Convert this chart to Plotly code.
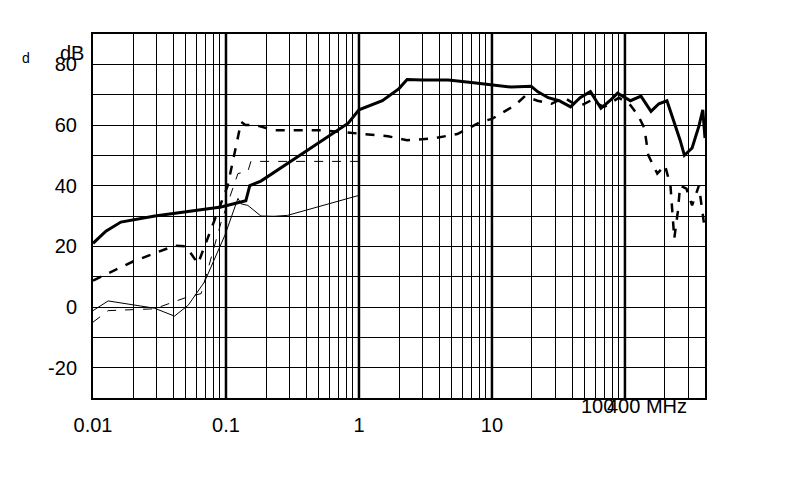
import plotly.graph_objects as go

# thick solid
f1 = [0.01, 0.0125, 0.0162, 0.0292, 0.0917, 0.141, 0.151, 0.183, 0.41, 0.83, 1.0, 1.5, 2.0, 2.3, 3.0, 4.7, 7.0, 10, 14, 19.7, 22, 26.5, 32, 39, 46, 55, 66, 77, 88, 110, 132, 157, 180, 207, 235, 260, 280, 320, 360, 385, 400]
v1 = [21, 25, 28, 30, 33, 35, 40, 41.5, 51.7, 60.6, 65, 68, 72, 75, 74.8, 74.8, 74, 73.2, 72.5, 72.8, 71, 69, 68, 66, 69, 71, 65.5, 68, 70.5, 68, 69.5, 64.5, 67, 68, 61, 55, 50, 52.4, 59.6, 65, 55.7]
# thick dashed
f2 = [0.01, 0.02, 0.041, 0.05, 0.0616, 0.103, 0.13, 0.14, 0.165, 0.23, 0.52, 1.65, 2.3, 3.5, 5.5, 8.2, 10, 14.9, 17.7, 22, 28, 35, 45, 55, 70, 90, 110, 125, 140, 150, 175, 200, 220, 235, 250, 260, 290, 320, 360, 400]
v2 = [8.7, 15, 20.2, 20, 14.3, 40, 61, 60, 60, 58.3, 58.3, 56.3, 55, 55.5, 57, 61, 62, 66.5, 69.5, 68, 67, 69, 66, 68, 66, 69, 66.5, 63.3, 59, 50, 44, 46.7, 40, 22.6, 31.5, 40, 39, 33.5, 40, 25]
# thin solid
f3 = [0.01, 0.013, 0.029, 0.041, 0.052, 0.069, 0.098, 0.123, 0.13, 0.146, 0.183, 0.23, 0.29, 1.0]
v3 = [-1.2, 2, -0.4, -3, 0.6, 8.3, 23.6, 35.8, 34, 33.5, 30, 29.9, 30.2, 36.8]
# thin dashed
f4 = [0.01, 0.013, 0.029, 0.052, 0.065, 0.092, 0.123, 0.146, 0.154, 0.2, 1.0]
v4 = [-5, -1.2, -0.6, 3.4, 4.4, 28, 44, 44.7, 48, 48, 48]

decades = [0.01, 0.1, 1, 10]
dec_labels = ["0.01", "0.1", "1", "10"]
yticks = [-20, 0, 20, 40, 60, 80]

grid_vals = []
for d in [0.01, 0.1, 1, 10, 100]:
    for k in range(1, 10):
        val = round(d * k, 6)
        if val <= 400:
            grid_vals.append(val)
grid_text = [dec_labels[decades.index(g)] if g in decades else "" for g in grid_vals]

fig = go.Figure()
fig.add_trace(go.Scatter(x=f1, y=v1, mode="lines", line=dict(color="black", width=3)))
fig.add_trace(go.Scatter(x=f2, y=v2, mode="lines", line=dict(color="black", width=2.5, dash="dash")))
fig.add_trace(go.Scatter(x=f3, y=v3, mode="lines", line=dict(color="black", width=1)))
fig.add_trace(go.Scatter(x=f4, y=v4, mode="lines", line=dict(color="black", width=1, dash="dash")))

for d in [0.1, 1, 10, 100]:
    fig.add_shape(type="line", x0=d, x1=d, y0=0, y1=1, xref="x", yref="paper",
                  line=dict(color="black", width=2.5), layer="below")

fig.update_layout(
    width=790, height=484, margin=dict(l=85, r=93, t=26, b=94, autoexpand=False),
    plot_bgcolor="white", paper_bgcolor="white", showlegend=False,
    font=dict(family="Liberation Sans, Arial", size=20, color="black"),
    xaxis=dict(type="log", range=[-2, 2.60206], tickvals=grid_vals, ticktext=grid_text,
               showgrid=True, gridcolor="black", gridwidth=1, showline=True, linecolor="black",
               linewidth=2, mirror=True, ticks="", automargin=False, ticklabelstandoff=8),
    yaxis=dict(range=[-30, 90], tickvals=list(range(-30, 91, 10)),
               ticktext=[str(v) if v in yticks else "" for v in range(-30, 91, 10)],
               showgrid=True, gridcolor="black", gridwidth=1, showline=True, linecolor="black",
               linewidth=2, mirror=True, ticks="", zeroline=False, automargin=False,
               ticklabelstandoff=10),
)
pw, ph = 790 - 85 - 93, 484 - 26 - 94
def px(xp, yp):
    return (xp - 85) / pw, (484 - 94 - yp) / ph
for txt, xp, yp, sz in [("100", 608, 411, 20), ("400 MHz", 681, 411, 20), ("dB", 50, 32, 20), ("d", 12, 40, 14)]:
    ax, ay = px(xp, yp)
    fig.add_annotation(text=txt, x=ax, y=ay, xref="paper", yref="paper", showarrow=False,
                       font=dict(size=sz))
fig.write_html("out.html")
